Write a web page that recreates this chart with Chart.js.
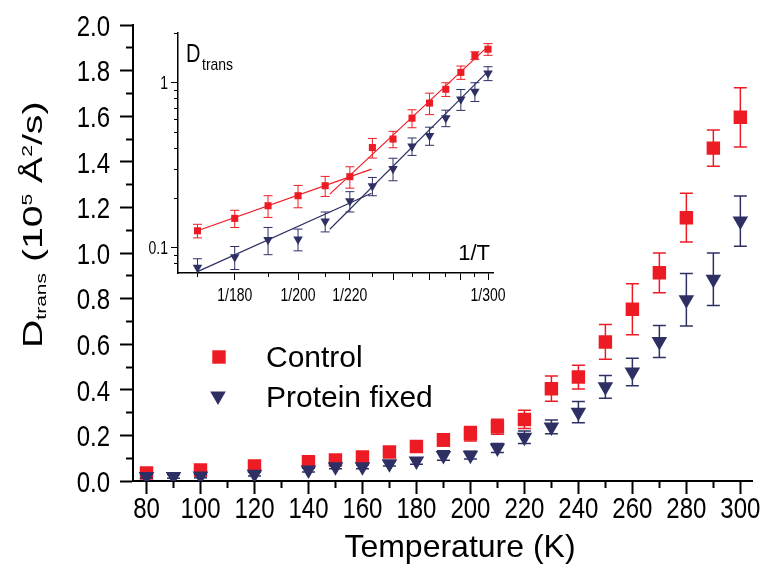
<!DOCTYPE html>
<html>
<head>
<meta charset="utf-8">
<script src="https://cdn.jsdelivr.net/npm/chart.js@4.4.1/dist/chart.umd.min.js"></script>
<style>
  html, body { margin: 0; padding: 0; background: #ffffff; }
  #wrap { position: relative; width: 762px; height: 565px; overflow: hidden; }
  #main { position: absolute; left: 0; top: 0; }
  #inset { position: absolute; left: 130px; top: 10px; }
</style>
</head>
<body>
<div id="wrap">
  <canvas id="main" width="762" height="565"></canvas>
  <canvas id="inset" width="380" height="305"></canvas>
</div>
<script>
// Translational diffusion coefficient D_trans (10^5 Å^2/s) against temperature (K)
const controlT   = [80, 100, 120, 140, 150, 160, 170, 180, 190, 200, 210, 220, 230, 240, 250, 260, 270, 280, 290, 300];
const controlD   = [0.035, 0.048, 0.066, 0.085, 0.092, 0.105, 0.127, 0.151, 0.180, 0.207, 0.238, 0.270, 0.405, 0.456, 0.610, 0.753, 0.913, 1.155, 1.460, 1.595];
const controlErr = [0.010, 0.010, 0.012, 0.012, 0.012, 0.012, 0.012, 0.018, 0.027, 0.032, 0.033, 0.040, 0.055, 0.052, 0.076, 0.112, 0.087, 0.107, 0.080, 0.130];

const fixedT   = [80, 90, 100, 120, 140, 150, 160, 170, 180, 190, 200, 210, 220, 230, 240, 250, 260, 270, 280, 290, 300];
const fixedD   = [0.020, 0.020, 0.022, 0.030, 0.048, 0.062, 0.062, 0.076, 0.088, 0.112, 0.113, 0.145, 0.192, 0.237, 0.302, 0.413, 0.478, 0.612, 0.795, 0.885, 1.140];
const fixedErr = [0.008, 0.008, 0.008, 0.008, 0.008, 0.008, 0.008, 0.010, 0.014, 0.021, 0.017, 0.020, 0.027, 0.030, 0.047, 0.050, 0.060, 0.070, 0.115, 0.115, 0.110];

// Arrhenius fits (inset): end points of each straight segment, as T and D
const controlFitLowT  = [170, 229.6];  const controlFitLowD  = [0.127, 0.300];
const controlFitHighT = [211.8, 300];  const controlFitHighD = [0.2115, 1.66];
const fixedFitLowT    = [170, 229.6];  const fixedFitLowD    = [0.0719, 0.2145];
const fixedFitHighT   = [211.8, 300];  const fixedFitHighD   = [0.1298, 1.171];

// Axis ticks
const mainXMajor = [80, 100, 120, 140, 160, 180, 200, 220, 240, 260, 280, 300];
const mainXMinor = [90, 110, 130, 150, 170, 190, 210, 230, 250, 270, 290];
const mainYMajor = [0, 0.2, 0.4, 0.6, 0.8, 1.0, 1.2, 1.4, 1.6, 1.8, 2.0];
const mainYMinor = [0.1, 0.3, 0.5, 0.7, 0.9, 1.1, 1.3, 1.5, 1.7, 1.9];
const insetTMajor = [180, 200, 220, 240, 260, 280, 300];
const insetTMinor = [170, 190, 210, 230, 250, 270, 290];
const insetTLabelled = [180, 200, 220, 300];
const insetYMajor = [0.1, 1];
const insetYMinor = [0.08, 0.09, 0.2, 0.3, 0.4, 0.5, 0.6, 0.7, 0.8, 0.9, 2];

const RED = '#ED1C24';
const NAVY = '#2E3064';
const SANS = "'Liberation Sans', Arial, Helvetica, sans-serif";

function setTicks(list, map) {
  return function (scale) { scale.ticks = list.map(v => ({ value: map ? map(v) : v })); };
}
function points(ts, ds, xmap, minT) {
  const out = [];
  ts.forEach((t, i) => { if (minT === undefined || t >= minT) out.push({ x: xmap ? xmap(t) : t, y: ds[i] }); });
  return out;
}
function errsFrom(ts, es, minT) {
  return es.filter((e, i) => minT === undefined || ts[i] >= minT);
}
const inv = t => 1 / t;

// Vertical error bars with caps, drawn right after their own dataset
const errorBars = {
  id: 'errorBars',
  afterDatasetDraw(chart, args, opts) {
    const ds = chart.data.datasets[args.index];
    if (!ds.errors) return;
    const meta = args.meta;
    const xs = chart.scales[meta.xAxisID], ys = chart.scales[meta.yAxisID];
    const a = chart.chartArea;
    const ctx = chart.ctx;
    ctx.save();
    ctx.beginPath();
    ctx.rect(a.left, a.top, a.right - a.left, a.bottom - a.top);
    ctx.clip();
    ctx.strokeStyle = ds.borderColor;
    ctx.lineWidth = opts.width;
    ds.data.forEach((p, i) => {
      const e = ds.errors[i];
      const x = xs.getPixelForValue(p.x);
      const yTop = ys.getPixelForValue(p.y + e);
      const yBot = ys.getPixelForValue(p.y - e);
      ctx.beginPath();
      ctx.moveTo(x, yTop); ctx.lineTo(x, yBot);
      ctx.moveTo(x - opts.cap, yTop); ctx.lineTo(x + opts.cap, yTop);
      ctx.moveTo(x - opts.cap, yBot); ctx.lineTo(x + opts.cap, yBot);
      ctx.stroke();
    });
    ctx.restore();
  }
};

// Tick labels in a tall, condensed face: drawn at each scale tick, stretched vertically
function tickLabels(specs) {
  return {
    id: 'tickLabels',
    afterDraw(chart) {
      const ctx = chart.ctx;
      ctx.save();
      ctx.fillStyle = '#000';
      ctx.font = specs.size + 'px ' + SANS;
      ctx.textBaseline = 'alphabetic';
      const cap = 0.716 * specs.size * specs.stretch;
      const xs = chart.scales[specs.x], ys = chart.scales[specs.y];
      ctx.textAlign = 'center';
      xs.ticks.forEach(t => {
        const s = specs.xFmt(t.value);
        if (!s) return;
        ctx.save();
        ctx.translate(xs.getPixelForValue(t.value), xs.top + specs.xGap + cap);
        ctx.scale(1, specs.stretch);
        ctx.fillText(s, 0, 0);
        ctx.restore();
      });
      ctx.textAlign = 'right';
      ys.ticks.forEach(t => {
        const s = specs.yFmt(t.value);
        if (!s) return;
        ctx.save();
        ctx.translate(ys.right - specs.yGap, ys.getPixelForValue(t.value) + cap / 2);
        ctx.scale(1, specs.stretch);
        ctx.fillText(s, 0, 0);
        ctx.restore();
      });
      ctx.restore();
    }
  };
}

function marker(ctx, style, rotation, radius, x, y, color) {
  ctx.save();
  ctx.fillStyle = color;
  ctx.strokeStyle = color;
  Chart.helpers.drawPoint(ctx, { pointStyle: style, rotation: rotation, radius: radius, borderWidth: 0 }, x, y);
  ctx.restore();
}

// Axis titles and legend of the main panel
const mainDecor = {
  id: 'mainDecor',
  afterDraw(chart) {
    const ctx = chart.ctx;
    ctx.save();
    ctx.fillStyle = '#000';
    ctx.textBaseline = 'alphabetic';
    ctx.textAlign = 'center';
    ctx.font = '32px ' + SANS;
    ctx.fillText('Temperature (K)', 460, 557);

    ctx.save();
    ctx.translate(42, 348);
    ctx.rotate(-Math.PI / 2);
    ctx.scale(1.4, 1);
    ctx.textAlign = 'left';
    const runs = [['D', 28, 0], ['trans', 15, 4], [' (10', 28, 0], ['5', 15, -10], [' Å', 28, 0], ['2', 15, -10], ['/s)', 28, 0]];
    let x = 0;
    for (const [t, s, dy] of runs) {
      ctx.font = s + 'px ' + SANS;
      ctx.fillText(t, x, dy);
      x += ctx.measureText(t).width;
    }
    ctx.restore();

    const dsets = chart.data.datasets;
    marker(ctx, 'rect', 0, 9.5, 219, 357, RED);
    marker(ctx, 'triangle', 180, 9, 218, 396, NAVY);
    ctx.fillStyle = '#000';
    ctx.textAlign = 'left';
    ctx.font = '30px ' + SANS;
    ctx.fillText(dsets[0].label, 266, 367);
    ctx.fillText(dsets[1].label, 266, 407);
    ctx.restore();
  }
};

new Chart(document.getElementById('main'), {
  type: 'scatter',
  data: {
    datasets: [
      { label: 'Control', data: points(controlT, controlD), errors: controlErr,
        xAxisID: 'x', yAxisID: 'y', order: 2,
        pointStyle: 'rect', pointRadius: 9.5, pointBorderWidth: 0,
        backgroundColor: RED, borderColor: RED },
      { label: 'Protein fixed', data: points(fixedT, fixedD), errors: fixedErr,
        xAxisID: 'x', yAxisID: 'y', order: 1,
        pointStyle: 'triangle', rotation: 180, pointRadius: 9, pointBorderWidth: 0,
        backgroundColor: NAVY, borderColor: NAVY }
    ]
  },
  options: {
    responsive: false, animation: false, devicePixelRatio: 1,
    layout: { padding: { top: 25, right: 9, left: 0, bottom: 0 } },
    plugins: { legend: { display: false }, tooltip: { enabled: false }, errorBars: { width: 1.5, cap: 6.5 } },
    scales: {
      xMinor: { type: 'linear', axis: 'x', position: 'bottom', weight: 0, min: 75, max: 304.5,
        afterBuildTicks: setTicks(mainXMinor), afterFit(s) { s.height = 0; },
        grid: { drawOnChartArea: false, tickLength: 7, tickWidth: 2, tickColor: '#000' },
        border: { display: false }, ticks: { display: false } },
      x: { type: 'linear', axis: 'x', position: 'bottom', weight: 1, min: 75, max: 304.5,
        afterBuildTicks: setTicks(mainXMajor), afterFit(s) { s.height = 84; },
        grid: { drawOnChartArea: false, tickLength: 13, tickWidth: 2, tickColor: '#000' },
        border: { display: true, color: '#000', width: 2 },
        ticks: { display: false } },
      yMinor: { type: 'linear', axis: 'y', position: 'left', weight: 0, min: 0, max: 2,
        afterBuildTicks: setTicks(mainYMinor), afterFit(s) { s.width = 0; },
        grid: { drawOnChartArea: false, tickLength: 7, tickWidth: 2, tickColor: '#000' },
        border: { display: false }, ticks: { display: false } },
      y: { type: 'linear', axis: 'y', position: 'left', weight: 1, min: 0, max: 2,
        afterBuildTicks: setTicks(mainYMajor), afterFit(s) { s.width = 133; },
        grid: { drawOnChartArea: false, tickLength: 13, tickWidth: 2, tickColor: '#000' },
        border: { display: true, color: '#000', width: 2 },
        ticks: { display: false } }
    }
  },
  plugins: [errorBars, mainDecor, tickLabels({
    x: 'x', y: 'y', size: 24, stretch: 1.25, xGap: 16, yGap: 23,
    xFmt: v => String(v), yFmt: v => v.toFixed(1)
  })]
});

// Inset: log D_trans against 1/T with Arrhenius fits
const insetDecor = {
  id: 'insetDecor',
  afterDraw(chart) {
    const ctx = chart.ctx;
    ctx.save();
    ctx.fillStyle = '#000';
    ctx.textBaseline = 'alphabetic';
    ctx.textAlign = 'right';
    ctx.font = '22px ' + SANS;
    ctx.fillText('1/T', 360, 250);

    ctx.textAlign = 'left';
    ctx.save();
    ctx.translate(56, 52);
    ctx.scale(1, 1.33);
    ctx.font = '20px ' + SANS;
    ctx.fillText('D', 0, 0);
    ctx.restore();
    ctx.save();
    ctx.translate(72, 60);
    ctx.scale(1, 1.2);
    ctx.font = '14px ' + SANS;
    ctx.fillText('trans', 0, 0);
    ctx.restore();
    ctx.restore();
  }
};

const lineSet = (ts, ds, color) => ({
  data: points(ts, ds, inv), xAxisID: 'x', yAxisID: 'y', order: 0,
  showLine: true, borderColor: color, borderWidth: 1.2, pointRadius: 0, fill: false
});

new Chart(document.getElementById('inset'), {
  type: 'scatter',
  data: {
    datasets: [
      { label: 'Control', data: points(controlT, controlD, inv, 170), errors: errsFrom(controlT, controlErr, 170),
        xAxisID: 'x', yAxisID: 'y', order: 4,
        pointStyle: 'rect', pointRadius: 5, pointBorderWidth: 0, backgroundColor: RED, borderColor: RED },
      { label: 'Protein fixed', data: points(fixedT, fixedD, inv, 170), errors: errsFrom(fixedT, fixedErr, 170),
        xAxisID: 'x', yAxisID: 'y', order: 3,
        pointStyle: 'triangle', rotation: 180, pointRadius: 5.5, pointBorderWidth: 0, backgroundColor: NAVY, borderColor: NAVY },
      lineSet(controlFitLowT, controlFitLowD, RED),
      lineSet(controlFitHighT, controlFitHighD, RED),
      lineSet(fixedFitLowT, fixedFitLowD, NAVY),
      lineSet(fixedFitHighT, fixedFitHighD, NAVY)
    ]
  },
  options: {
    responsive: false, animation: false, devicePixelRatio: 1,
    layout: { padding: { top: 23, right: 17, left: 0, bottom: 0 } },
    plugins: { legend: { display: false }, tooltip: { enabled: false }, errorBars: { width: 1, cap: 4.5 } },
    scales: {
      xMinor: { type: 'linear', axis: 'x', position: 'bottom', weight: 0, reverse: true, min: 1 / 304, max: 1 / 165.2,
        afterBuildTicks: setTicks(insetTMinor, inv), afterFit(s) { s.height = 0; },
        grid: { drawOnChartArea: false, tickLength: 4, tickWidth: 1, tickColor: '#000' },
        border: { display: false }, ticks: { display: false } },
      x: { type: 'linear', axis: 'x', position: 'bottom', weight: 1, reverse: true, min: 1 / 304, max: 1 / 165.2,
        afterBuildTicks: setTicks(insetTMajor, inv), afterFit(s) { s.height = 42; },
        grid: { drawOnChartArea: false, tickLength: 7, tickWidth: 1, tickColor: '#000' },
        border: { display: true, color: '#000', width: 1.5 },
        ticks: { display: false } },
      yMinor: { type: 'logarithmic', axis: 'y', position: 'left', weight: 0, min: 0.0705, max: 2.0,
        afterBuildTicks: setTicks(insetYMinor), afterFit(s) { s.width = 0; },
        grid: { drawOnChartArea: false, tickLength: 4, tickWidth: 1, tickColor: '#000' },
        border: { display: false }, ticks: { display: false } },
      y: { type: 'logarithmic', axis: 'y', position: 'left', weight: 1, min: 0.0705, max: 2.0,
        afterBuildTicks: setTicks(insetYMajor), afterFit(s) { s.width = 48; },
        grid: { drawOnChartArea: false, tickLength: 7, tickWidth: 1, tickColor: '#000' },
        border: { display: true, color: '#000', width: 1.5 },
        ticks: { display: false } }
    }
  },
  plugins: [errorBars, insetDecor, tickLabels({
    x: 'x', y: 'y', size: 14, stretch: 1.3, xGap: 15, yGap: 10,
    xFmt: v => { const t = Math.round(1 / v); return insetTLabelled.includes(t) ? '1/' + t : ''; },
    yFmt: v => (v >= 1 ? '1' : '0.1')
  })]
});
</script>
</body>
</html>
